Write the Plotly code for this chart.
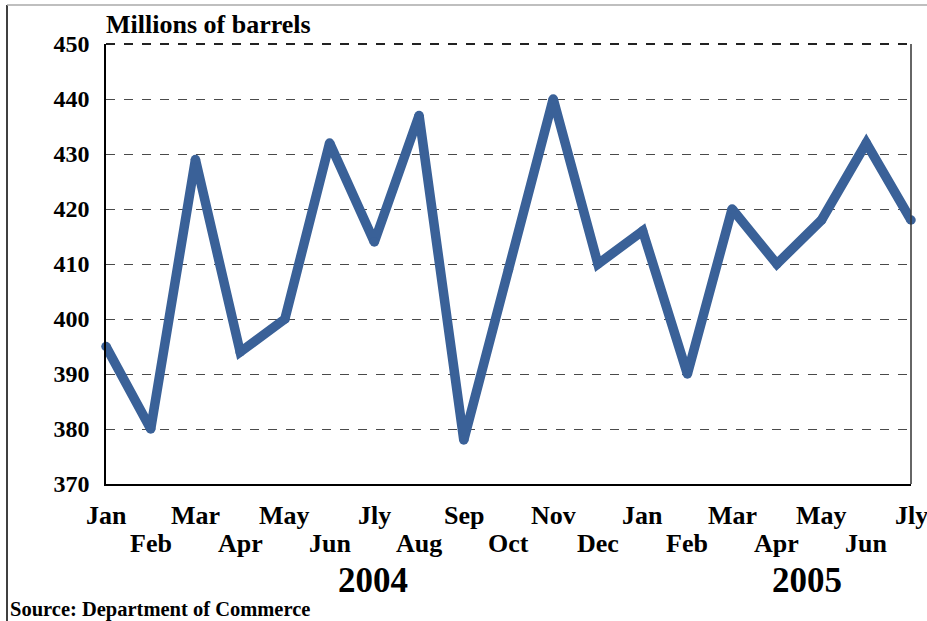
import plotly.graph_objects as go

months = ["Jan", "Feb", "Mar", "Apr", "May", "Jun", "Jly", "Aug", "Sep", "Oct", "Nov", "Dec",
          "Jan", "Feb", "Mar", "Apr", "May", "Jun", "Jly"]
values = [395, 380, 429, 394, 400, 432, 414, 437, 378, 409, 440, 410,
          416, 390, 420, 410, 418, 432, 418]
years = ["2004", "2005"]
year_pos = [5.97, 15.68]
y_ticks = [370, 380, 390, 400, 410, 420, 430, 440, 450]

x = list(range(len(months)))
FONT = "Liberation Serif"

W, H = 927, 621
L, R, T, B = 106, 16, 44, 137
PW, PH = W - L - R, H - T - B


def px(xp):
    return (xp - L) / PW


def py(yp):
    return (H - B - yp) / PH


fig = go.Figure()
fig.add_trace(go.Scatter(
    x=x, y=values, mode="lines+markers",
    line=dict(color="#3A6198", width=9.5),
    marker=dict(color="#3A6198", size=9.5, line=dict(width=0)),
    hoverinfo="skip", cliponaxis=False,
))

annotations = []
for i, m in enumerate(months):
    annotations.append(dict(
        x=i, xref="x", y=py(515) if i % 2 == 0 else py(543), yref="paper",
        text=f"<b>{m}</b>", showarrow=False, yanchor="middle",
        font=dict(family=FONT, size=26, color="black"),
    ))
for yr, p in zip(years, year_pos):
    annotations.append(dict(
        x=p, xref="x", y=py(580), yref="paper", text=f"<b>{yr}</b>",
        showarrow=False, yanchor="middle",
        font=dict(family=FONT, size=35, color="black"),
    ))
annotations.append(dict(
    x=px(104), xref="paper", y=py(24), yref="paper", yanchor="middle", xanchor="left",
    text="<b>Millions of barrels</b>", showarrow=False,
    font=dict(family=FONT, size=26, color="black"),
))
annotations.append(dict(
    x=px(8), xref="paper", y=py(609), yref="paper", xanchor="left", yanchor="middle",
    text="<b>Source: Department of Commerce</b>", showarrow=False,
    font=dict(family=FONT, size=20.5, color="black"),
))

fig.update_layout(
    width=W, height=H,
    margin=dict(l=L, r=R, t=T, b=B, pad=0),
    paper_bgcolor="white", plot_bgcolor="white",
    showlegend=False,
    xaxis=dict(
        range=[0, 18], showgrid=False, zeroline=False,
        showticklabels=False, ticks="",
        showline=True, linecolor="black", linewidth=2,
    ),
    yaxis=dict(
        range=[370, 450], tickvals=y_ticks,
        ticktext=[f"<b>{v}</b>" for v in y_ticks],
        tickfont=dict(family=FONT, size=24, color="black"),
        showgrid=True, gridcolor="#4a4a4a", griddash="dash", gridwidth=1.2,
        zeroline=False, showline=True, linecolor="black", linewidth=1.5,
        ticks="outside", ticklen=10, tickcolor="rgba(0,0,0,0)",
    ),
    annotations=annotations,
)

# right border of the plot area
fig.add_shape(type="line", xref="paper", yref="paper", x0=1, x1=1, y0=0, y1=1,
              line=dict(color="#333333", width=1.5))
# top border (dashed like the gridlines)
fig.add_shape(type="line", xref="paper", yref="paper", x0=0, x1=1, y0=1, y1=1,
              line=dict(color="#222222", width=2, dash="dash"))

# outer frame lines (left black, top gray)
fig.add_shape(type="line", xref="paper", yref="paper",
              x0=px(7), x1=px(7), y0=py(H + 5), y1=py(5),
              line=dict(color="black", width=1.5))
fig.add_shape(type="line", xref="paper", yref="paper",
              x0=px(7), x1=px(W + 5), y0=py(5), y1=py(5),
              line=dict(color="#AAAAAA", width=1.5))

fig.write_html("out.html", config={"displayModeBar": False},
               post_script="document.body.style.margin='0px';")
